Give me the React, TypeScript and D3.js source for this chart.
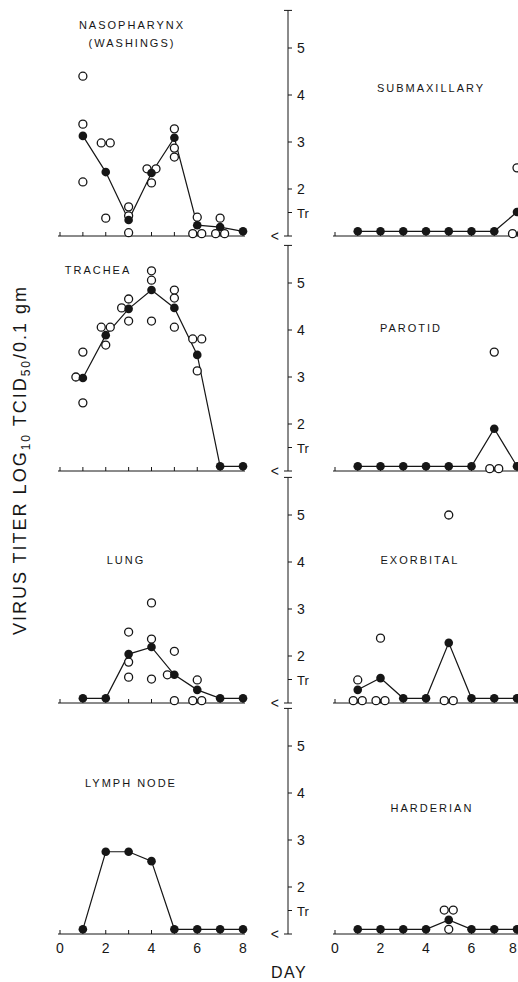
import React, { useRef, useEffect } from 'react';
import * as d3 from 'd3';

// days after infection
const days = [1, 2, 3, 4, 5, 6, 7, 8];
const dayTickLabels = [0, 2, 4, 6, 8];
const titerTicks = [5, 4, 3, 2];

// mean titers (filled dots) and single animals (open circles), log10 TCID50/0.1 gm
const nasoMean = [3.13, 2.36, 1.34, 2.34, 3.09, 1.23, 1.19, 1.1];
const nasoObs = [[4.4, 3.38, 2.15], [2.98, 2.98, 1.38], [1.62, 1.43, 1.07], [2.43, 2.43, 2.13], [3.28, 2.87, 2.68], [1.4, 1.05, 1.05], [1.38, 1.05, 1.05], []];

const submaxMean = [1.1, 1.1, 1.1, 1.1, 1.1, 1.1, 1.1, 1.51];
const submaxObs = [[], [], [], [], [], [], [], [2.45, 1.05, 1.05]];

const tracheaMean = [2.98, 3.89, 4.45, 4.85, 4.47, 3.47, 1.1, 1.1];
const tracheaObs = [[3.53, 3.0, 2.45], [4.06, 4.06, 3.68], [4.66, 4.47, 4.19], [5.26, 5.06, 4.19], [4.85, 4.68, 4.06], [3.81, 3.81, 3.13], [], []];

const parotidMean = [1.1, 1.1, 1.1, 1.1, 1.1, 1.1, 1.9, 1.1];
const parotidObs = [[], [], [], [], [], [], [3.53, 1.05, 1.05], []];

const lungMean = [1.1, 1.1, 2.04, 2.19, 1.6, 1.28, 1.1, 1.1];
const lungObs = [[], [], [2.51, 1.87, 1.55], [3.13, 2.36, 1.51], [2.1, 1.6, 1.05], [1.49, 1.05, 1.05], [], []];

const exorbMean = [1.28, 1.53, 1.1, 1.1, 2.28, 1.1, 1.1, 1.1];
const exorbObs = [[1.49, 1.05, 1.05], [2.38, 1.05, 1.05], [], [], [5.0, 1.05, 1.05], [], [], []];

const lymphMean = [1.1, 2.75, 2.75, 2.55, 1.1, 1.1, 1.1, 1.1];
const lymphObs = [[], [], [], [], [], [], [], []];

const harderMean = [1.1, 1.1, 1.1, 1.1, 1.3, 1.1, 1.1, 1.1];
const harderObs = [[], [], [], [], [1.51, 1.51, 1.1], [], [], []];

// layout
const W = 518;
const H = 982;
const rowBase = [236, 471, 703, 934];
const UNIT = 47;
const AXIS_X = 288;
const sideRange = [[60, 243], [335, 517]];
const FONT = 'Liberation Sans, Arial, sans-serif';

const panels = [
  { title: ['NASOPHARYNX', '(WASHINGS)'], row: 0, side: 0, mean: nasoMean, obs: nasoObs, tx: 132, ty: 29 },
  { title: ['SUBMAXILLARY'], row: 0, side: 1, mean: submaxMean, obs: submaxObs, tx: 431, ty: 92 },
  { title: ['TRACHEA'], row: 1, side: 0, mean: tracheaMean, obs: tracheaObs, tx: 98, ty: 274 },
  { title: ['PAROTID'], row: 1, side: 1, mean: parotidMean, obs: parotidObs, tx: 411, ty: 332 },
  { title: ['LUNG'], row: 2, side: 0, mean: lungMean, obs: lungObs, tx: 126, ty: 564 },
  { title: ['EXORBITAL'], row: 2, side: 1, mean: exorbMean, obs: exorbObs, tx: 420, ty: 564 },
  { title: ['LYMPH NODE'], row: 3, side: 0, mean: lymphMean, obs: lymphObs, tx: 131, ty: 787 },
  { title: ['HARDERIAN'], row: 3, side: 1, mean: harderMean, obs: harderObs, tx: 432, ty: 812 },
];

const App = () => {
  const ref = useRef(null);

  useEffect(() => {
    const svg = d3.select(ref.current);
    svg.selectAll('*').remove();

    const ink = '#161616';

    // shared vertical titer axes, one per row
    rowBase.forEach(base => {
      const y = d3.scaleLinear().domain([1, 5]).range([base, base - 4 * UNIT]);
      const g = svg.append('g');
      const top = y(5.8);
      g.append('line').attr('x1', AXIS_X).attr('x2', AXIS_X).attr('y1', top).attr('y2', y(1))
        .attr('stroke', ink).attr('stroke-width', 1);
      g.append('line').attr('x1', AXIS_X - 4).attr('x2', AXIS_X + 4).attr('y1', top).attr('y2', top)
        .attr('stroke', ink).attr('stroke-width', 1);
      g.append('line').attr('x1', AXIS_X - 4).attr('x2', AXIS_X + 4).attr('y1', y(1)).attr('y2', y(1))
        .attr('stroke', ink).attr('stroke-width', 1);

      titerTicks.forEach(t => {
        g.append('line').attr('x1', AXIS_X).attr('x2', AXIS_X + 4).attr('y1', y(t)).attr('y2', y(t))
          .attr('stroke', ink).attr('stroke-width', 1);
        g.append('text').attr('x', AXIS_X + 9).attr('y', y(t) + 5)
          .attr('font-family', FONT).attr('font-size', 14).attr('fill', ink).text(t);
      });
      g.append('line').attr('x1', AXIS_X).attr('x2', AXIS_X + 4).attr('y1', y(1.5)).attr('y2', y(1.5))
        .attr('stroke', ink).attr('stroke-width', 1);
      g.append('text').attr('x', AXIS_X + 9).attr('y', y(1.5) + 5)
        .attr('font-family', FONT).attr('font-size', 13).attr('fill', ink).text('Tr');
      g.append('text').attr('x', AXIS_X - 9).attr('y', y(1) + 5).attr('text-anchor', 'end')
        .attr('font-family', FONT).attr('font-size', 14).attr('fill', ink).text('<');
    });

    panels.forEach(p => {
      const base = rowBase[p.row];
      const x = d3.scaleLinear().domain([0, 8]).range(sideRange[p.side]);
      const y = d3.scaleLinear().domain([1, 5]).range([base, base - 4 * UNIT]);
      const g = svg.append('g');

      // day axis
      g.append('line').attr('x1', x(0) - 2).attr('x2', x(8) + 2).attr('y1', base).attr('y2', base)
        .attr('stroke', ink).attr('stroke-width', 1);
      g.selectAll('.dtick').data(d3.range(0, 9)).enter().append('line')
        .attr('x1', d => x(d)).attr('x2', d => x(d)).attr('y1', base).attr('y2', base - 4)
        .attr('stroke', ink).attr('stroke-width', 1);
      if (p.row === 3) {
        // keep the last label inside the page edge
        g.selectAll('.dlab').data(dayTickLabels).enter().append('text')
          .attr('x', d => Math.min(x(d), W - 5)).attr('y', 953).attr('text-anchor', 'middle')
          .attr('font-family', FONT).attr('font-size', 14).attr('fill', ink).text(d => d);
      }

      // title
      p.title.forEach((t, i) => {
        g.append('text').attr('x', p.tx).attr('y', p.ty + i * 18).attr('text-anchor', 'middle')
          .attr('font-family', FONT).attr('font-size', 11).attr('letter-spacing', 2)
          .attr('fill', ink).text(t);
      });

      // mean line
      const line = d3.line().x((d, i) => x(days[i])).y(d => y(d));
      g.append('path').datum(p.mean).attr('d', line).attr('fill', 'none')
        .attr('stroke', ink).attr('stroke-width', 1.2);

      // single animals: spread equal values side by side, nudge off the mean dot
      const open = [];
      p.obs.forEach((vals, i) => {
        const groups = d3.group(vals, v => Math.round(v * 50));
        groups.forEach(vs => {
          const n = vs.length;
          vs.forEach((v, k) => {
            let dx = (k - (n - 1) / 2) * 9;
            if (n === 1 && Math.abs(v - p.mean[i]) < 0.08) dx = -7;
            open.push({ cx: x(days[i]) + dx, cy: y(v) });
          });
        });
      });
      g.selectAll('.obs').data(open).enter().append('circle')
        .attr('cx', d => d.cx).attr('cy', d => d.cy).attr('r', 4)
        .attr('fill', '#fff').attr('stroke', ink).attr('stroke-width', 1.3);

      g.selectAll('.mean').data(p.mean).enter().append('circle')
        .attr('cx', (d, i) => x(days[i])).attr('cy', d => y(d)).attr('r', 4.3)
        .attr('fill', ink);
    });

    // axis titles
    const yt = svg.append('text')
      .attr('transform', 'translate(26,460) rotate(-90)')
      .attr('text-anchor', 'middle')
      .attr('font-family', FONT).attr('font-size', 18).attr('letter-spacing', 2).attr('fill', ink);
    yt.append('tspan').text('VIRUS TITER LOG');
    yt.append('tspan').attr('font-size', 12).attr('dy', 4).text('10');
    yt.append('tspan').attr('dy', -4).text(' TCID');
    yt.append('tspan').attr('font-size', 12).attr('dy', 4).text('50');
    yt.append('tspan').attr('dy', -4).text('/0.1 gm');

    svg.append('text').attr('x', 289).attr('y', 978).attr('text-anchor', 'middle')
      .attr('font-family', FONT).attr('font-size', 16).attr('letter-spacing', 1.5)
      .attr('fill', ink).text('DAY');
  }, []);

  return (
    <svg ref={ref} width={W} height={H}
      style={{ position: 'absolute', left: 0, top: 0, background: '#fff' }} />
  );
};

export default App;
